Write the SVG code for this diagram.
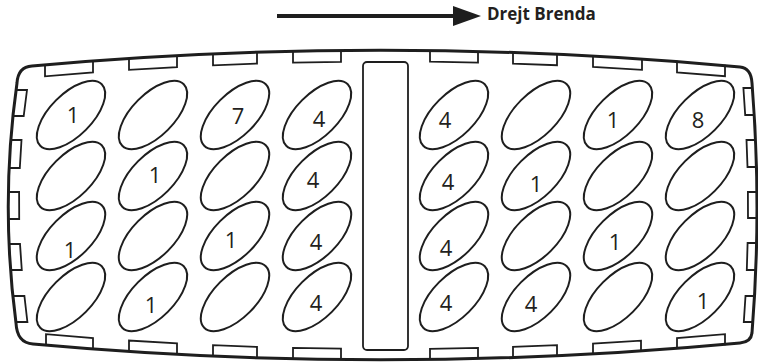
<svg xmlns="http://www.w3.org/2000/svg" width="758" height="362" viewBox="0 0 758 362">
<style>
.tray{fill:none;stroke:#1e1e1e;stroke-width:3;stroke-linejoin:round}
.tab{fill:none;stroke:#1e1e1e;stroke-width:1.8;stroke-linejoin:miter}
.cup{fill:#fff;stroke:#1e1e1e;stroke-width:2}
.slot{fill:#fff;stroke:#1e1e1e;stroke-width:1.8}
.num{font-family:"Open Sans","Liberation Sans",sans-serif;font-size:22px;fill:#231f20;text-anchor:middle}
.lbl{font-family:"Open Sans","Liberation Sans",sans-serif;font-size:17px;font-weight:bold;fill:#231f20}
</style>
<defs>
<ellipse id="e" cx="0" cy="0" rx="43.5" ry="21" transform="rotate(-45)"/>
</defs>
<rect width="758" height="362" fill="#fff"/>
<g id="tray">
<path class="tray" d="M32,66 Q386,34 740,67 Q751,68 752,83 Q762,208 752,333 Q751,342 740,343 Q386,376 33,344 Q17,343 16,323 Q0,203 17,83 Q18,67 32,66 Z"/>
<g id="tabs-top">
<path class="tab" d="M45,64.8 L45,76.3 L93,72.5 L93,61"/>
<path class="tab" d="M129,58.4 L129,69.9 L177,67.1 L177,55.6"/>
<path class="tab" d="M213,53.8 L213,65.3 L257,63.6 L257,52.1"/>
<path class="tab" d="M293,51.1 L293,62.6 L341,61.8 L341,50.3"/>
<path class="tab" d="M430,50.2 L430,61.7 L478,62.6 L478,51.1"/>
<path class="tab" d="M513,52.1 L513,63.6 L557,65.2 L557,53.7"/>
<path class="tab" d="M593,55.5 L593,67 L642,69.9 L642,58.4"/>
<path class="tab" d="M677,60.8 L677,72.3 L725,76.2 L725,64.7"/>
</g>
<g id="tabs-bottom">
<path class="tab" d="M46,345.2 L46,334.2 L93,338 L93,349"/>
<path class="tab" d="M129,351.5 L129,340.5 L177,343.4 L177,354.4"/>
<path class="tab" d="M213,356.2 L213,345.2 L257,346.9 L257,357.9"/>
<path class="tab" d="M293,358.9 L293,347.9 L341,348.7 L341,359.7"/>
<path class="tab" d="M430,359.8 L430,348.8 L478,347.9 L478,358.9"/>
<path class="tab" d="M513,357.9 L513,346.9 L557,345.2 L557,356.2"/>
<path class="tab" d="M593,354.5 L593,343.5 L641,340.6 L641,351.6"/>
<path class="tab" d="M677,349.1 L677,338.1 L725,334.2 L725,345.2"/>
</g>
<g id="tabs-left">
<path class="tab" d="M16,90 L27,90 L23.7,116 L12.7,116"/>
<path class="tab" d="M10.5,140 L21.5,140 L19.8,168 L8.8,168"/>
<path class="tab" d="M8.1,192 L19.1,192 L19.2,219 L8.2,219"/>
<path class="tab" d="M9,244 L20,244 L21.8,270 L10.8,270"/>
<path class="tab" d="M13.4,296 L24.4,296 L27.4,322 L16.4,322"/>
</g>
<g id="tabs-right">
<path class="tab" d="M752.4,88 L743.4,88 L745.2,115 L754.2,115"/>
<path class="tab" d="M755.5,140 L746.5,140 L747.5,167 L756.5,167"/>
<path class="tab" d="M756.9,192 L747.9,192 L748,218 L757,218"/>
<path class="tab" d="M756.6,243 L747.6,243 L746.8,270 L755.8,270"/>
<path class="tab" d="M754.5,296 L745.5,296 L743.8,322 L752.8,322"/>
</g>
</g>
<g id="slot"><rect class="slot" x="363" y="62" width="45" height="288" rx="4"/></g>
<g id="cups">
<g id="c0-0"><use href="#e" x="71" y="115" class="cup"/><text class="num" x="73" y="123">1</text></g>
<g id="c0-1"><use href="#e" x="153" y="115" class="cup"/></g>
<g id="c0-2"><use href="#e" x="235" y="115" class="cup"/><text class="num" x="238" y="124">7</text></g>
<g id="c0-3"><use href="#e" x="317" y="115" class="cup"/><text class="num" x="319" y="127">4</text></g>
<g id="c0-4"><use href="#e" x="454" y="115" class="cup"/><text class="num" x="445" y="128">4</text></g>
<g id="c0-5"><use href="#e" x="536" y="115" class="cup"/></g>
<g id="c0-6"><use href="#e" x="618" y="115" class="cup"/><text class="num" x="613" y="128">1</text></g>
<g id="c0-7"><use href="#e" x="700" y="115" class="cup"/><text class="num" x="698" y="128">8</text></g>

<g id="c1-0"><use href="#e" x="71" y="176" class="cup"/></g>
<g id="c1-1"><use href="#e" x="153" y="176" class="cup"/><text class="num" x="155" y="183">1</text></g>
<g id="c1-2"><use href="#e" x="235" y="176" class="cup"/></g>
<g id="c1-3"><use href="#e" x="317" y="176" class="cup"/><text class="num" x="313" y="188">4</text></g>
<g id="c1-4"><use href="#e" x="454" y="176" class="cup"/><text class="num" x="448" y="190">4</text></g>
<g id="c1-5"><use href="#e" x="536" y="176" class="cup"/><text class="num" x="536" y="192">1</text></g>
<g id="c1-6"><use href="#e" x="618" y="176" class="cup"/></g>
<g id="c1-7"><use href="#e" x="700" y="176" class="cup"/></g>

<g id="c2-0"><use href="#e" x="71" y="236" class="cup"/><text class="num" x="70" y="258">1</text></g>
<g id="c2-1"><use href="#e" x="153" y="236" class="cup"/></g>
<g id="c2-2"><use href="#e" x="235" y="236" class="cup"/><text class="num" x="231" y="248">1</text></g>
<g id="c2-3"><use href="#e" x="317" y="236" class="cup"/><text class="num" x="316" y="250">4</text></g>
<g id="c2-4"><use href="#e" x="454" y="236" class="cup"/><text class="num" x="446" y="256">4</text></g>
<g id="c2-5"><use href="#e" x="536" y="236" class="cup"/></g>
<g id="c2-6"><use href="#e" x="618" y="236" class="cup"/><text class="num" x="615" y="250">1</text></g>
<g id="c2-7"><use href="#e" x="700" y="236" class="cup"/></g>

<g id="c3-0"><use href="#e" x="71" y="297" class="cup"/></g>
<g id="c3-1"><use href="#e" x="153" y="297" class="cup"/><text class="num" x="151" y="313">1</text></g>
<g id="c3-2"><use href="#e" x="235" y="297" class="cup"/></g>
<g id="c3-3"><use href="#e" x="317" y="297" class="cup"/><text class="num" x="316" y="311">4</text></g>
<g id="c3-4"><use href="#e" x="454" y="297" class="cup"/><text class="num" x="446" y="311">4</text></g>
<g id="c3-5"><use href="#e" x="536" y="297" class="cup"/><text class="num" x="531" y="312">4</text></g>
<g id="c3-6"><use href="#e" x="618" y="297" class="cup"/></g>
<g id="c3-7"><use href="#e" x="700" y="297" class="cup"/><text class="num" x="703" y="309">1</text></g>
</g>
<g id="connectors">
<line x1="277" y1="16" x2="455" y2="16" stroke="#1e1e1e" stroke-width="4"/>
<polygon points="453,6 481,16 453,26" fill="#1e1e1e"/>
</g>
<g id="label"><text class="lbl" x="487" y="20">Drejt Brenda</text></g>
</svg>
